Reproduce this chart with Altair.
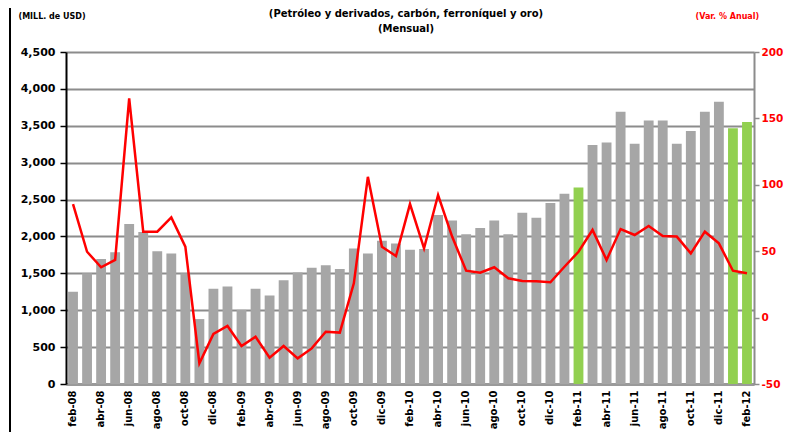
import altair as alt
import pandas as pd

meses = ["feb-08","mar-08","abr-08","may-08","jun-08","jul-08","ago-08","sep-08","oct-08","nov-08","dic-08",
         "ene-09","feb-09","mar-09","abr-09","may-09","jun-09","jul-09","ago-09","sep-09","oct-09","nov-09","dic-09",
         "ene-10","feb-10","mar-10","abr-10","may-10","jun-10","jul-10","ago-10","sep-10","oct-10","nov-10","dic-10",
         "ene-11","feb-11","mar-11","abr-11","may-11","jun-11","jul-11","ago-11","sep-11","oct-11","nov-11","dic-11",
         "ene-12","feb-12"]

exportaciones = [1250,1500,1695,1785,2170,2060,1800,1770,1500,880,1290,1320,1005,1290,1200,1405,1510,1575,
                 1610,1560,1835,1770,1940,1905,1820,1830,2290,2215,2030,2115,2215,2030,2320,2255,2455,2580,
                 2665,3240,3275,3690,3255,3570,3570,3255,3430,3690,3825,3465,3550]

var_anual = [85.5,49.6,37.9,43.4,165,64.7,64.7,75.5,53.4,-34.4,-12.3,-6.3,-21.4,-14.4,-30.2,-21.4,-30.7,
             -23.2,-10.6,-11.3,25.8,106,53.4,46.4,85.5,52.2,92.3,61,35.3,33.8,37.9,29.6,27.6,27.3,26.6,
             38.3,49.6,66,43.4,66.7,62.2,69,61.4,61,48.4,64.7,55.9,35.3,33.4]

destacados = ["feb-11", "ene-12", "feb-12"]

etiquetas_x = meses[::2]

titulo = ["(Petróleo y derivados, carbón, ferroníquel y oro)", "(Mensual)"]

df = pd.DataFrame({"mes": meses, "valor": exportaciones, "var": var_anual})
df["grupo"] = ["verde" if m in destacados else "gris" for m in meses]

FONT = "DejaVu Sans"

x = alt.X("mes:N", sort=meses,
          scale=alt.Scale(paddingInner=0.3, paddingOuter=0.15),
          axis=alt.Axis(title=None, values=etiquetas_x, labelAngle=-90, labelFont=FONT,
                        labelFontSize=10, labelFontWeight="bold", labelColor="black",
                        ticks=False, domainColor="#9a9a9a", domainWidth=3, labelPadding=6))

bars = alt.Chart(df).mark_bar().encode(
    x=x,
    y=alt.Y("valor:Q", scale=alt.Scale(domain=[0, 4500], nice=False),
            axis=alt.Axis(title="(MILL. de USD)", titleAngle=0, titleX=-48, titleY=-36,
                          titleAlign="left", titleBaseline="middle", titleFont=FONT,
                          titleFontSize=8, titleFontWeight="bold", titleColor="black",
                          values=list(range(0, 4501, 500)), format=",.0f",
                          labelFont=FONT, labelFontSize=11, labelFontWeight="bold",
                          labelColor="black", labelPadding=5,
                          domainColor="black", domainWidth=2, tickColor="black",
                          tickWidth=1.5, tickSize=6,
                          grid=True, gridColor="#8c8c8c", gridWidth=2)),
    color=alt.Color("grupo:N", scale=alt.Scale(domain=["gris", "verde"],
                                                range=["#a6a6a6", "#92d050"]), legend=None),
)

line = alt.Chart(df).mark_line(color="#ff0000", strokeWidth=2.5).encode(
    x=x,
    y=alt.Y("var:Q", scale=alt.Scale(domain=[-50, 200], nice=False),
            axis=alt.Axis(orient="right", title="(Var. % Anual)", titleAngle=0, titleX=-59,
                          titleY=-36, titleAlign="left", titleBaseline="middle",
                          titleFont=FONT, titleFontSize=8, titleFontWeight="bold",
                          titleColor="#ff0000",
                          values=list(range(-50, 201, 50)), labelExpr="'' + datum.value",
                          labelFont=FONT,
                          labelFontSize=10.5, labelFontWeight="bold", labelColor="#ff0000",
                          labelPadding=2, domainColor="#8c8c8c", domainWidth=2,
                          tickColor="#8c8c8c", tickWidth=1.5, tickSize=5, grid=False)),
)

frame = alt.Chart(df).mark_rule(color="black", strokeWidth=2).encode(
    x=alt.value(-56), y=alt.value(-52), y2=alt.value(380)
)

title_df = pd.DataFrame({"t": [titulo]})
title_mark = alt.Chart(title_df).mark_text(
    font=FONT, fontSize=10, fontWeight="bold", color="black", align="center",
    baseline="middle", lineHeight=15
).encode(x=alt.value(340), y=alt.value(-38), text="t")

chart = alt.layer(bars, line, frame, title_mark).resolve_scale(y="independent").properties(
    width=688, height=332,
    autosize=alt.AutoSizeParams(type="none"),
    padding={"left": 58, "top": 44, "right": 29, "bottom": 48},
).configure_view(stroke=None).configure(background="white")

chart.save("out.html", embed_options={"renderer": "svg", "actions": False})
